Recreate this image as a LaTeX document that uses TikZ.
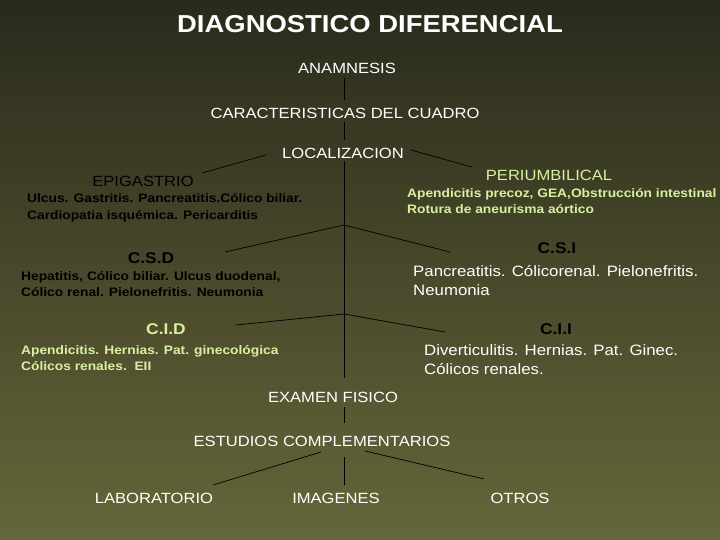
\documentclass[tikz,border=0pt]{standalone}
\usepackage{fontspec}
\setmainfont{Liberation Sans}[FakeStretch=1.12]
\definecolor{bgtop}{HTML}{2A2A1C}
\definecolor{bgbot}{HTML}{66663A}
\definecolor{lgreen}{HTML}{D8F0A0}
\begin{document}
\begin{tikzpicture}[x=1pt,y=-1pt,
  lbl/.style={text=white,font=\fontsize{14.8}{16}\selectfont,inner sep=0pt},
  hdr/.style={font=\bfseries\fontsize{15.5}{17}\selectfont,inner sep=0pt},
  desc/.style={font=\fontsize{13}{16.5}\selectfont,inner sep=0pt,anchor=west,align=left},
  descb/.style={desc,font=\bfseries\fontsize{12.3}{16.5}\selectfont},
  ln/.style={black,line width=0.7pt}]
\shade[top color=bgtop,bottom color=bgbot] (0,0) rectangle (720,540);
\useasboundingbox (0,0) rectangle (720,540);
\node[text=white,font=\bfseries\fontsize{24.5}{26}\selectfont,inner sep=0pt] (t) at (370,24) {DIAGNOSTICO DIFERENCIAL};
\node[lbl] (an) at (347,68) {ANAMNESIS};
\node[lbl] (car) at (345,113) {CARACTERISTICAS DEL CUADRO};
\node[lbl] (loc) at (343,153) {LOCALIZACION};
\node[hdr,text=black,font=\fontsize{14.8}{16}\selectfont] (epi) at (143,181) {EPIGASTRIO};
\node[descb,text=black] (epid) at (27,208) {Ulcus. Gastritis. Pancreatitis.Cólico biliar.\\Cardiopatia isquémica. Pericarditis};
\node[hdr,text=lgreen,font=\fontsize{14.8}{16}\selectfont] (per) at (549,175) {PERIUMBILICAL};
\node[descb,text=lgreen] (perd) at (407,201) {Apendicitis precoz, GEA,Obstrucción intestinal\\Rotura de aneurisma aórtico};
\node[hdr,text=black] (csd) at (151,258) {C.S.D};
\node[descb,text=black] (csdd) at (21,284) {Hepatitis, Cólico biliar. Ulcus duodenal,\\Cólico renal. Pielonefritis. Neumonia};
\node[hdr,text=black] (csi) at (557,248) {C.S.I};
\node[desc,text=white,font=\fontsize{15}{19}\selectfont] (csid) at (413,281) {Pancreatitis. Cólicorenal. Pielonefritis.\\Neumonia};
\node[hdr,text=lgreen] (cid) at (166,329) {C.I.D};
\node[descb,text=lgreen] (cidd) at (21,358) {Apendicitis. Hernias. Pat. ginecológica\\Cólicos renales.\ \ EII};
\node[hdr,text=black] (cii) at (556,329) {C.I.I};
\node[desc,text=white,font=\fontsize{15}{19}\selectfont] (ciid) at (424,360) {Diverticulitis. Hernias. Pat. Ginec.\\Cólicos renales.};
\node[lbl] (ex) at (333,397) {EXAMEN FISICO};
\node[lbl] (es) at (322,441) {ESTUDIOS COMPLEMENTARIOS};
\node[lbl] (lab) at (154,498) {LABORATORIO};
\node[lbl] (img) at (336,498) {IMAGENES};
\node[lbl] (otr) at (520,498) {OTROS};
\coordinate (a1) at (344,78); \coordinate (a2) at (344,100);
\coordinate (b1) at (344,122); \coordinate (b2) at (344,140);
\coordinate (v1) at (344,161); \coordinate (v2) at (344,378);
\coordinate (j1) at (344,225); \coordinate (j2) at (344,314);
\coordinate (l1a) at (266,155); \coordinate (l1b) at (202,173);
\coordinate (r1a) at (411,150); \coordinate (r1b) at (472,167);
\coordinate (l2) at (225,252); \coordinate (r2) at (450,252);
\coordinate (l3) at (236,325); \coordinate (r3) at (445,332);
\coordinate (e1) at (344,407); \coordinate (e2) at (344,423);
\coordinate (s1) at (321,452); \coordinate (s1e) at (213,485);
\coordinate (s2) at (344,457); \coordinate (s2e) at (344,485);
\coordinate (s3) at (365,451); \coordinate (s3e) at (484,479);
\draw[ln] (a1)--(a2); \draw[ln] (b1)--(b2); \draw[ln] (v1)--(v2);
\draw[ln] (l1a)--(l1b); \draw[ln] (r1a)--(r1b);
\draw[ln] (j1)--(l2); \draw[ln] (j1)--(r2);
\draw[ln] (j2)--(l3); \draw[ln] (j2)--(r3);
\draw[ln] (e1)--(e2);
\draw[ln] (s1)--(s1e); \draw[ln] (s2)--(s2e); \draw[ln] (s3)--(s3e);
\end{tikzpicture}
\end{document}
